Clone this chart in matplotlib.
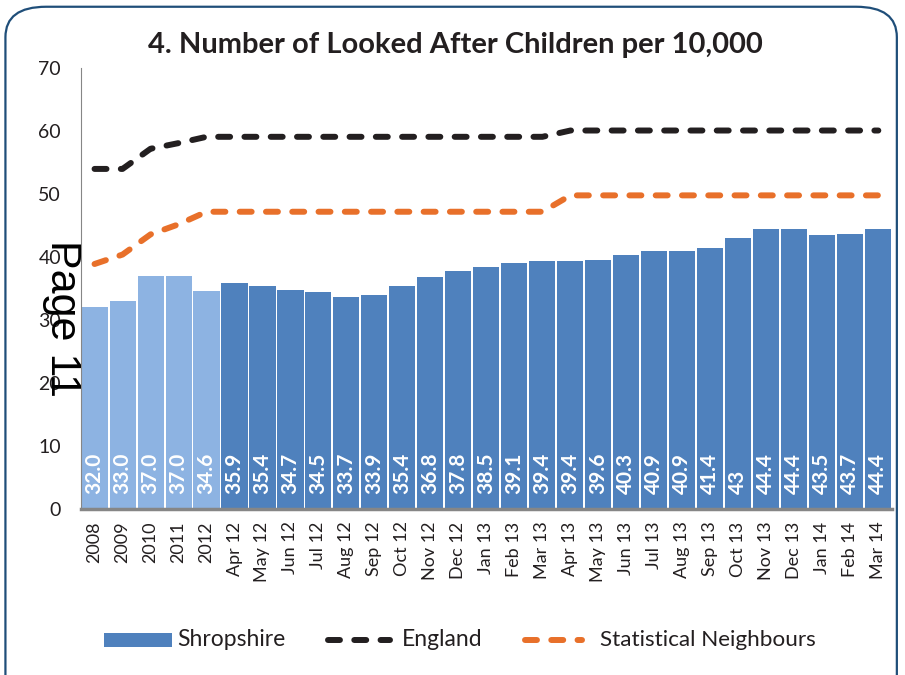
import numpy as np
import matplotlib
matplotlib.use("Agg")
import matplotlib.pyplot as plt
from matplotlib.patches import FancyBboxPatch

plt.rcParams['font.family'] = ['Lato', 'DejaVu Sans']

# Data
periods = ["2008", "2009", "2010", "2011", "2012",
           "Apr 12", "May 12", "Jun 12", "Jul 12", "Aug 12", "Sep 12", "Oct 12",
           "Nov 12", "Dec 12", "Jan 13", "Feb 13", "Mar 13", "Apr 13", "May 13",
           "Jun 13", "Jul 13", "Aug 13", "Sep 13", "Oct 13", "Nov 13", "Dec 13",
           "Jan 14", "Feb 14", "Mar 14"]
shropshire = [32.0, 33.0, 37.0, 37.0, 34.6,
              35.9, 35.4, 34.7, 34.5, 33.7, 33.9, 35.4, 36.8, 37.8, 38.5, 39.1,
              39.4, 39.4, 39.6, 40.3, 40.9, 40.9, 41.4, 43, 44.4, 44.4, 43.5,
              43.7, 44.4]
value_text = ["32.0", "33.0", "37.0", "37.0", "34.6",
              "35.9", "35.4", "34.7", "34.5", "33.7", "33.9", "35.4", "36.8",
              "37.8", "38.5", "39.1", "39.4", "39.4", "39.6", "40.3", "40.9",
              "40.9", "41.4", "43", "44.4", "44.4", "43.5", "43.7", "44.4"]
england = [54, 54, 57.2, 58.1, 59.1] + [59.1] * 12 + [60.1] * 12
stat_neighbours = [38.9, 40.4, 43.6, 45.2, 47.2] + [47.2] * 12 + [49.8] * 12

x = np.arange(len(periods))
bar_colors = ["#8DB3E2"] * 5 + ["#4F81BD"] * 24

DASH = (2.0, 2.4)
LW = 4.3

fig = plt.figure(figsize=(9.05, 6.75), dpi=100)

# rounded frame round the whole chart
frame = FancyBboxPatch((0.006, -0.05), 0.985, 1.04,
                       boxstyle="round,pad=0,rounding_size=0.045",
                       transform=fig.transFigure, facecolor="white",
                       edgecolor="#1F4E79", linewidth=1.6, zorder=-5)
fig.patches.append(frame)

ax = fig.add_axes([0.089, 0.246, 0.897, 0.653])
ax.set_facecolor("none")

ax.bar(x, shropshire, width=0.93, color=bar_colors, zorder=2)
ax.plot(x, england, color="#231F20", lw=LW, dashes=DASH,
        dash_capstyle="round", zorder=3)
ax.plot(x, stat_neighbours, color="#E8702A", lw=LW, dashes=DASH,
        dash_capstyle="round", zorder=3)

for xi, txt in zip(x, value_text):
    ax.text(xi, 2.3, txt, rotation=90, ha="center", va="bottom",
            color="white", fontsize=15, fontweight="bold", zorder=4)

ax.set_xlim(-0.5, len(periods) - 0.5)
ax.set_ylim(0, 70)
ax.set_yticks(range(0, 71, 10))
ax.set_xticks(x)
ax.set_xticklabels(periods, rotation=90, fontsize=13)
ax.tick_params(axis="y", length=0, labelsize=14, pad=14, colors="#231F20")
ax.tick_params(axis="x", length=0, pad=9, colors="#231F20")

for side in ["top", "right"]:
    ax.spines[side].set_visible(False)
ax.spines["left"].set_color("#868686")
ax.spines["bottom"].set_color("#868686")
ax.spines["bottom"].set_linewidth(2.5)

fig.text(0.503, 0.933, "4. Number of Looked After Children per 10,000",
         ha="center", va="center", fontsize=21, fontweight="bold",
         color="#231F20")

# legend
ly = 0.052
fig.patches.append(plt.Rectangle((0.115, 0.0415), 0.075, 0.0207,
                                 transform=fig.transFigure,
                                 facecolor="#4F81BD", edgecolor="none"))
fig.text(0.196, ly, "Shropshire", va="center", fontsize=16.5, color="#231F20")
fig.lines.append(plt.Line2D([0.362, 0.431], [ly, ly],
                            transform=fig.transFigure, color="#231F20", lw=LW,
                            dashes=DASH, dash_capstyle="round"))
fig.text(0.444, ly, "England", va="center", fontsize=16.5, color="#231F20")
fig.lines.append(plt.Line2D([0.580, 0.643], [ly, ly],
                            transform=fig.transFigure, color="#E8702A", lw=LW,
                            dashes=DASH, dash_capstyle="round"))
fig.text(0.663, ly, "Statistical Neighbours", va="center", fontsize=16.2,
         color="#231F20")

# page number stamp
fig.text(0.068, 0.528, "Page 11", rotation=-90, ha="center", va="center",
         fontsize=31, family="Liberation Sans", color="black", zorder=6)

fig.savefig("out.png", dpi=100)
